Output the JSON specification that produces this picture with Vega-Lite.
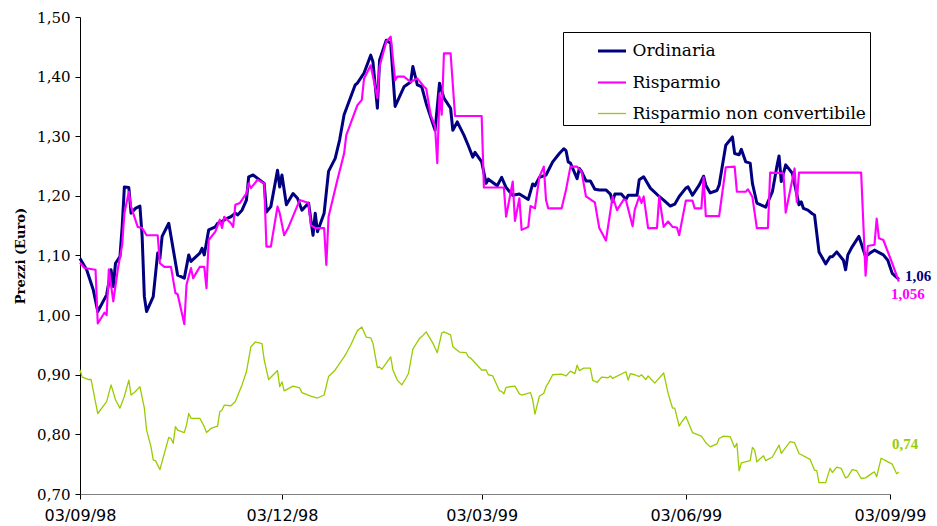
{
"$schema":"https://vega.github.io/schema/vega-lite/v6.json",
"width":810,"height":477,
"autosize":{"type":"none"},
"padding":{"left":80,"top":17,"right":47,"bottom":32},
"background":"white",
"config":{"view":{"stroke":null},"axis":{"grid":false},
 "legend":{"title":null,"strokeColor":"#000000","fillColor":"#ffffff","padding":3.5,"symbolOffset":30,"symbolType":"stroke","symbolSize":784,"labelFont":"DejaVu Serif","labelFontSize":17,"labelColor":"#000000","labelOffset":5,"labelLimit":400,"rowPadding":7.5}},
"datasets":{
"ordinaria":[
{"date":"1998-09-03","prezzo":1.095},{"date":"1998-09-06","prezzo":1.076},{"date":"1998-09-09","prezzo":1.042},{"date":"1998-09-11","prezzo":1.006},{"date":"1998-09-15","prezzo":1.034},{"date":"1998-09-17","prezzo":1.076},{"date":"1998-09-18","prezzo":1.048},{"date":"1998-09-19","prezzo":1.087},{"date":"1998-09-21","prezzo":1.098},{"date":"1998-09-22","prezzo":1.148},{"date":"1998-09-23","prezzo":1.215},{"date":"1998-09-25","prezzo":1.214},{"date":"1998-09-26","prezzo":1.171},{"date":"1998-09-28","prezzo":1.179},{"date":"1998-09-30","prezzo":1.183},{"date":"1998-10-01","prezzo":1.132},{"date":"1998-10-02","prezzo":1.031},{"date":"1998-10-03","prezzo":1.006},{"date":"1998-10-06","prezzo":1.031},{"date":"1998-10-08","prezzo":1.104},{"date":"1998-10-09","prezzo":1.095},{"date":"1998-10-10","prezzo":1.132},{"date":"1998-10-13","prezzo":1.154},{"date":"1998-10-17","prezzo":1.067},{"date":"1998-10-20","prezzo":1.062},{"date":"1998-10-22","prezzo":1.101},{"date":"1998-10-23","prezzo":1.090},{"date":"1998-10-27","prezzo":1.104},{"date":"1998-10-28","prezzo":1.112},{"date":"1998-10-29","prezzo":1.101},{"date":"1998-10-31","prezzo":1.143},{"date":"1998-11-03","prezzo":1.148},{"date":"1998-11-04","prezzo":1.154},{"date":"1998-11-06","prezzo":1.157},{"date":"1998-11-08","prezzo":1.162},{"date":"1998-11-10","prezzo":1.165},{"date":"1998-11-12","prezzo":1.171},{"date":"1998-11-13","prezzo":1.168},{"date":"1998-11-15","prezzo":1.176},{"date":"1998-11-17","prezzo":1.193},{"date":"1998-11-18","prezzo":1.232},{"date":"1998-11-20","prezzo":1.235},{"date":"1998-11-25","prezzo":1.221},{"date":"1998-11-26","prezzo":1.173},{"date":"1998-11-28","prezzo":1.182},{"date":"1998-12-01","prezzo":1.243},{"date":"1998-12-02","prezzo":1.215},{"date":"1998-12-03","prezzo":1.235},{"date":"1998-12-05","prezzo":1.185},{"date":"1998-12-08","prezzo":1.204},{"date":"1998-12-10","prezzo":1.196},{"date":"1998-12-12","prezzo":1.176},{"date":"1998-12-15","prezzo":1.188},{"date":"1998-12-17","prezzo":1.134},{"date":"1998-12-18","prezzo":1.171},{"date":"1998-12-19","prezzo":1.140},{"date":"1998-12-22","prezzo":1.171},{"date":"1998-12-24","prezzo":1.241},{"date":"1998-12-27","prezzo":1.263},{"date":"1998-12-29","prezzo":1.294},{"date":"1998-12-31","prezzo":1.336},{"date":"1999-01-05","prezzo":1.386},{"date":"1999-01-06","prezzo":1.389},{"date":"1999-01-09","prezzo":1.406},{"date":"1999-01-12","prezzo":1.436},{"date":"1999-01-13","prezzo":1.425},{"date":"1999-01-15","prezzo":1.347},{"date":"1999-01-16","prezzo":1.428},{"date":"1999-01-19","prezzo":1.461},{"date":"1999-01-21","prezzo":1.456},{"date":"1999-01-23","prezzo":1.350},{"date":"1999-01-27","prezzo":1.383},{"date":"1999-01-30","prezzo":1.391},{"date":"1999-01-31","prezzo":1.417},{"date":"1999-02-02","prezzo":1.386},{"date":"1999-02-04","prezzo":1.383},{"date":"1999-02-06","prezzo":1.355},{"date":"1999-02-10","prezzo":1.310},{"date":"1999-02-12","prezzo":1.389},{"date":"1999-02-14","prezzo":1.364},{"date":"1999-02-17","prezzo":1.347},{"date":"1999-02-18","prezzo":1.310},{"date":"1999-02-20","prezzo":1.324},{"date":"1999-02-23","prezzo":1.302},{"date":"1999-02-25","prezzo":1.284},{"date":"1999-02-27","prezzo":1.265},{"date":"1999-02-28","prezzo":1.273},{"date":"1999-03-03","prezzo":1.257},{"date":"1999-03-05","prezzo":1.221},{"date":"1999-03-06","prezzo":1.228},{"date":"1999-03-10","prezzo":1.217},{"date":"1999-03-12","prezzo":1.231},{"date":"1999-03-14","prezzo":1.214},{"date":"1999-03-17","prezzo":1.201},{"date":"1999-03-20","prezzo":1.203},{"date":"1999-03-24","prezzo":1.194},{"date":"1999-03-26","prezzo":1.220},{"date":"1999-03-27","prezzo":1.217},{"date":"1999-03-29","prezzo":1.231},{"date":"1999-04-01","prezzo":1.235},{"date":"1999-04-04","prezzo":1.257},{"date":"1999-04-07","prezzo":1.271},{"date":"1999-04-09","prezzo":1.279},{"date":"1999-04-10","prezzo":1.276},{"date":"1999-04-11","prezzo":1.257},{"date":"1999-04-12","prezzo":1.255},{"date":"1999-04-15","prezzo":1.229},{"date":"1999-04-16","prezzo":1.246},{"date":"1999-04-17","prezzo":1.241},{"date":"1999-04-19","prezzo":1.225},{"date":"1999-04-21","prezzo":1.225},{"date":"1999-04-23","prezzo":1.211},{"date":"1999-04-25","prezzo":1.210},{"date":"1999-04-28","prezzo":1.210},{"date":"1999-04-30","prezzo":1.203},{"date":"1999-05-01","prezzo":1.190},{"date":"1999-05-02","prezzo":1.203},{"date":"1999-05-05","prezzo":1.203},{"date":"1999-05-07","prezzo":1.194},{"date":"1999-05-08","prezzo":1.201},{"date":"1999-05-12","prezzo":1.201},{"date":"1999-05-13","prezzo":1.227},{"date":"1999-05-15","prezzo":1.232},{"date":"1999-05-18","prezzo":1.213},{"date":"1999-05-22","prezzo":1.199},{"date":"1999-05-24","prezzo":1.193},{"date":"1999-05-27","prezzo":1.183},{"date":"1999-05-29","prezzo":1.186},{"date":"1999-05-31","prezzo":1.199},{"date":"1999-06-03","prezzo":1.213},{"date":"1999-06-04","prezzo":1.215},{"date":"1999-06-06","prezzo":1.201},{"date":"1999-06-09","prezzo":1.218},{"date":"1999-06-11","prezzo":1.233},{"date":"1999-06-12","prezzo":1.218},{"date":"1999-06-14","prezzo":1.205},{"date":"1999-06-17","prezzo":1.209},{"date":"1999-06-18","prezzo":1.218},{"date":"1999-06-21","prezzo":1.285},{"date":"1999-06-23","prezzo":1.294},{"date":"1999-06-24","prezzo":1.299},{"date":"1999-06-25","prezzo":1.271},{"date":"1999-06-27","prezzo":1.269},{"date":"1999-06-28","prezzo":1.278},{"date":"1999-06-30","prezzo":1.257},{"date":"1999-07-02","prezzo":1.255},{"date":"1999-07-03","prezzo":1.221},{"date":"1999-07-05","prezzo":1.188},{"date":"1999-07-09","prezzo":1.181},{"date":"1999-07-12","prezzo":1.207},{"date":"1999-07-14","prezzo":1.249},{"date":"1999-07-15","prezzo":1.267},{"date":"1999-07-16","prezzo":1.224},{"date":"1999-07-18","prezzo":1.252},{"date":"1999-07-21","prezzo":1.238},{"date":"1999-07-24","prezzo":1.185},{"date":"1999-07-25","prezzo":1.190},{"date":"1999-07-26","prezzo":1.179},{"date":"1999-07-28","prezzo":1.176},{"date":"1999-07-30","prezzo":1.170},{"date":"1999-07-31","prezzo":1.168},{"date":"1999-08-02","prezzo":1.106},{"date":"1999-08-05","prezzo":1.086},{"date":"1999-08-07","prezzo":1.098},{"date":"1999-08-08","prezzo":1.098},{"date":"1999-08-10","prezzo":1.106},{"date":"1999-08-13","prezzo":1.092},{"date":"1999-08-14","prezzo":1.076},{"date":"1999-08-15","prezzo":1.101},{"date":"1999-08-17","prezzo":1.115},{"date":"1999-08-20","prezzo":1.132},{"date":"1999-08-23","prezzo":1.098},{"date":"1999-08-25","prezzo":1.104},{"date":"1999-08-27","prezzo":1.109},{"date":"1999-08-31","prezzo":1.101},{"date":"1999-09-02","prezzo":1.092},{"date":"1999-09-04","prezzo":1.070},{"date":"1999-09-07","prezzo":1.060}
],
"risparmio":[
{"date":"1998-09-03","prezzo":1.088},{"date":"1998-09-05","prezzo":1.079},{"date":"1998-09-10","prezzo":1.076},{"date":"1998-09-11","prezzo":0.986},{"date":"1998-09-14","prezzo":1.004},{"date":"1998-09-15","prezzo":1.000},{"date":"1998-09-16","prezzo":1.077},{"date":"1998-09-18","prezzo":1.023},{"date":"1998-09-20","prezzo":1.076},{"date":"1998-09-22","prezzo":1.118},{"date":"1998-09-23","prezzo":1.171},{"date":"1998-09-25","prezzo":1.207},{"date":"1998-09-26","prezzo":1.182},{"date":"1998-09-29","prezzo":1.148},{"date":"1998-10-01","prezzo":1.146},{"date":"1998-10-03","prezzo":1.134},{"date":"1998-10-08","prezzo":1.134},{"date":"1998-10-09","prezzo":1.087},{"date":"1998-10-11","prezzo":1.081},{"date":"1998-10-14","prezzo":1.081},{"date":"1998-10-16","prezzo":1.037},{"date":"1998-10-17","prezzo":1.035},{"date":"1998-10-20","prezzo":0.985},{"date":"1998-10-21","prezzo":1.051},{"date":"1998-10-23","prezzo":1.079},{"date":"1998-10-24","prezzo":1.062},{"date":"1998-10-27","prezzo":1.081},{"date":"1998-10-29","prezzo":1.081},{"date":"1998-10-30","prezzo":1.045},{"date":"1998-10-31","prezzo":1.126},{"date":"1998-11-03","prezzo":1.140},{"date":"1998-11-05","prezzo":1.160},{"date":"1998-11-06","prezzo":1.146},{"date":"1998-11-07","prezzo":1.165},{"date":"1998-11-10","prezzo":1.154},{"date":"1998-11-11","prezzo":1.148},{"date":"1998-11-12","prezzo":1.185},{"date":"1998-11-14","prezzo":1.188},{"date":"1998-11-17","prezzo":1.204},{"date":"1998-11-18","prezzo":1.221},{"date":"1998-11-19","prezzo":1.213},{"date":"1998-11-22","prezzo":1.227},{"date":"1998-11-25","prezzo":1.221},{"date":"1998-11-26","prezzo":1.115},{"date":"1998-11-28","prezzo":1.115},{"date":"1998-12-01","prezzo":1.182},{"date":"1998-12-02","prezzo":1.171},{"date":"1998-12-04","prezzo":1.134},{"date":"1998-12-06","prezzo":1.148},{"date":"1998-12-11","prezzo":1.193},{"date":"1998-12-15","prezzo":1.188},{"date":"1998-12-16","prezzo":1.151},{"date":"1998-12-18","prezzo":1.146},{"date":"1998-12-22","prezzo":1.146},{"date":"1998-12-23","prezzo":1.084},{"date":"1998-12-24","prezzo":1.165},{"date":"1998-12-28","prezzo":1.227},{"date":"1998-12-31","prezzo":1.271},{"date":"1999-01-01","prezzo":1.302},{"date":"1999-01-06","prezzo":1.352},{"date":"1999-01-08","prezzo":1.361},{"date":"1999-01-09","prezzo":1.397},{"date":"1999-01-12","prezzo":1.419},{"date":"1999-01-15","prezzo":1.364},{"date":"1999-01-16","prezzo":1.417},{"date":"1999-01-19","prezzo":1.459},{"date":"1999-01-21","prezzo":1.467},{"date":"1999-01-23","prezzo":1.394},{"date":"1999-01-24","prezzo":1.400},{"date":"1999-01-27","prezzo":1.400},{"date":"1999-01-30","prezzo":1.391},{"date":"1999-02-02","prezzo":1.397},{"date":"1999-02-05","prezzo":1.383},{"date":"1999-02-06","prezzo":1.380},{"date":"1999-02-08","prezzo":1.336},{"date":"1999-02-10","prezzo":1.316},{"date":"1999-02-11","prezzo":1.255},{"date":"1999-02-12","prezzo":1.372},{"date":"1999-02-13","prezzo":1.336},{"date":"1999-02-14","prezzo":1.439},{"date":"1999-02-17","prezzo":1.439},{"date":"1999-02-19","prezzo":1.334},{"date":"1999-03-03","prezzo":1.334},{"date":"1999-03-04","prezzo":1.214},{"date":"1999-03-13","prezzo":1.214},{"date":"1999-03-14","prezzo":1.165},{"date":"1999-03-17","prezzo":1.224},{"date":"1999-03-18","prezzo":1.158},{"date":"1999-03-20","prezzo":1.196},{"date":"1999-03-21","prezzo":1.143},{"date":"1999-03-24","prezzo":1.148},{"date":"1999-03-25","prezzo":1.183},{"date":"1999-03-27","prezzo":1.179},{"date":"1999-03-29","prezzo":1.232},{"date":"1999-03-31","prezzo":1.249},{"date":"1999-04-01","prezzo":1.193},{"date":"1999-04-02","prezzo":1.179},{"date":"1999-04-08","prezzo":1.179},{"date":"1999-04-10","prezzo":1.210},{"date":"1999-04-12","prezzo":1.249},{"date":"1999-04-15","prezzo":1.249},{"date":"1999-04-17","prezzo":1.241},{"date":"1999-04-19","prezzo":1.199},{"date":"1999-04-21","prezzo":1.194},{"date":"1999-04-23","prezzo":1.189},{"date":"1999-04-25","prezzo":1.146},{"date":"1999-04-28","prezzo":1.125},{"date":"1999-05-01","prezzo":1.199},{"date":"1999-05-03","prezzo":1.176},{"date":"1999-05-06","prezzo":1.194},{"date":"1999-05-07","prezzo":1.193},{"date":"1999-05-10","prezzo":1.149},{"date":"1999-05-11","prezzo":1.177},{"date":"1999-05-13","prezzo":1.199},{"date":"1999-05-14","prezzo":1.188},{"date":"1999-05-15","prezzo":1.199},{"date":"1999-05-17","prezzo":1.146},{"date":"1999-05-21","prezzo":1.146},{"date":"1999-05-22","prezzo":1.199},{"date":"1999-05-24","prezzo":1.148},{"date":"1999-05-26","prezzo":1.157},{"date":"1999-05-28","prezzo":1.148},{"date":"1999-05-30","prezzo":1.147},{"date":"1999-05-31","prezzo":1.134},{"date":"1999-06-03","prezzo":1.192},{"date":"1999-06-06","prezzo":1.192},{"date":"1999-06-07","prezzo":1.179},{"date":"1999-06-10","prezzo":1.179},{"date":"1999-06-11","prezzo":1.231},{"date":"1999-06-12","prezzo":1.166},{"date":"1999-06-18","prezzo":1.166},{"date":"1999-06-21","prezzo":1.248},{"date":"1999-06-25","prezzo":1.249},{"date":"1999-06-26","prezzo":1.207},{"date":"1999-06-30","prezzo":1.207},{"date":"1999-07-01","prezzo":1.211},{"date":"1999-07-03","prezzo":1.198},{"date":"1999-07-05","prezzo":1.146},{"date":"1999-07-10","prezzo":1.146},{"date":"1999-07-11","prezzo":1.239},{"date":"1999-07-17","prezzo":1.238},{"date":"1999-07-18","prezzo":1.172},{"date":"1999-07-22","prezzo":1.246},{"date":"1999-07-23","prezzo":1.190},{"date":"1999-07-24","prezzo":1.239},{"date":"1999-08-21","prezzo":1.239},{"date":"1999-08-23","prezzo":1.066},{"date":"1999-08-24","prezzo":1.116},{"date":"1999-08-27","prezzo":1.118},{"date":"1999-08-28","prezzo":1.162},{"date":"1999-08-29","prezzo":1.129},{"date":"1999-08-31","prezzo":1.126},{"date":"1999-09-04","prezzo":1.087},{"date":"1999-09-07","prezzo":1.056}
],
"nonconv":[
{"date":"1998-09-03","prezzo":0.908},{"date":"1998-09-04","prezzo":0.896},{"date":"1998-09-07","prezzo":0.892},{"date":"1998-09-08","prezzo":0.892},{"date":"1998-09-11","prezzo":0.835},{"date":"1998-09-15","prezzo":0.855},{"date":"1998-09-17","prezzo":0.883},{"date":"1998-09-19","prezzo":0.858},{"date":"1998-09-21","prezzo":0.844},{"date":"1998-09-23","prezzo":0.864},{"date":"1998-09-25","prezzo":0.891},{"date":"1998-09-26","prezzo":0.866},{"date":"1998-09-28","prezzo":0.872},{"date":"1998-09-30","prezzo":0.880},{"date":"1998-10-02","prezzo":0.844},{"date":"1998-10-03","prezzo":0.807},{"date":"1998-10-05","prezzo":0.779},{"date":"1998-10-06","prezzo":0.757},{"date":"1998-10-07","prezzo":0.756},{"date":"1998-10-09","prezzo":0.741},{"date":"1998-10-11","prezzo":0.768},{"date":"1998-10-13","prezzo":0.795},{"date":"1998-10-14","prezzo":0.793},{"date":"1998-10-15","prezzo":0.785},{"date":"1998-10-16","prezzo":0.813},{"date":"1998-10-17","prezzo":0.807},{"date":"1998-10-20","prezzo":0.803},{"date":"1998-10-21","prezzo":0.816},{"date":"1998-10-22","prezzo":0.835},{"date":"1998-10-23","prezzo":0.827},{"date":"1998-10-27","prezzo":0.827},{"date":"1998-10-29","prezzo":0.813},{"date":"1998-10-30","prezzo":0.803},{"date":"1998-11-01","prezzo":0.810},{"date":"1998-11-04","prezzo":0.814},{"date":"1998-11-05","prezzo":0.838},{"date":"1998-11-06","prezzo":0.841},{"date":"1998-11-07","prezzo":0.849},{"date":"1998-11-10","prezzo":0.848},{"date":"1998-11-12","prezzo":0.855},{"date":"1998-11-15","prezzo":0.883},{"date":"1998-11-17","prezzo":0.905},{"date":"1998-11-19","prezzo":0.947},{"date":"1998-11-21","prezzo":0.955},{"date":"1998-11-24","prezzo":0.952},{"date":"1998-11-25","prezzo":0.925},{"date":"1998-11-27","prezzo":0.892},{"date":"1998-12-01","prezzo":0.907},{"date":"1998-12-02","prezzo":0.880},{"date":"1998-12-03","prezzo":0.888},{"date":"1998-12-04","prezzo":0.873},{"date":"1998-12-08","prezzo":0.881},{"date":"1998-12-11","prezzo":0.878},{"date":"1998-12-12","prezzo":0.870},{"date":"1998-12-16","prezzo":0.864},{"date":"1998-12-19","prezzo":0.861},{"date":"1998-12-22","prezzo":0.866},{"date":"1998-12-24","prezzo":0.897},{"date":"1998-12-27","prezzo":0.908},{"date":"1998-12-29","prezzo":0.919},{"date":"1998-12-31","prezzo":0.930},{"date":"1999-01-01","prezzo":0.936},{"date":"1999-01-03","prezzo":0.950},{"date":"1999-01-06","prezzo":0.974},{"date":"1999-01-08","prezzo":0.980},{"date":"1999-01-10","prezzo":0.963},{"date":"1999-01-12","prezzo":0.962},{"date":"1999-01-13","prezzo":0.953},{"date":"1999-01-15","prezzo":0.912},{"date":"1999-01-16","prezzo":0.913},{"date":"1999-01-17","prezzo":0.909},{"date":"1999-01-21","prezzo":0.930},{"date":"1999-01-22","prezzo":0.908},{"date":"1999-01-24","prezzo":0.891},{"date":"1999-01-26","prezzo":0.883},{"date":"1999-01-28","prezzo":0.895},{"date":"1999-01-29","prezzo":0.902},{"date":"1999-01-31","prezzo":0.943},{"date":"1999-02-03","prezzo":0.961},{"date":"1999-02-04","prezzo":0.964},{"date":"1999-02-06","prezzo":0.972},{"date":"1999-02-09","prezzo":0.953},{"date":"1999-02-11","prezzo":0.937},{"date":"1999-02-13","prezzo":0.970},{"date":"1999-02-14","prezzo":0.972},{"date":"1999-02-17","prezzo":0.967},{"date":"1999-02-18","prezzo":0.947},{"date":"1999-02-21","prezzo":0.938},{"date":"1999-02-24","prezzo":0.937},{"date":"1999-02-25","prezzo":0.930},{"date":"1999-02-26","prezzo":0.928},{"date":"1999-03-03","prezzo":0.908},{"date":"1999-03-05","prezzo":0.908},{"date":"1999-03-06","prezzo":0.900},{"date":"1999-03-08","prezzo":0.898},{"date":"1999-03-11","prezzo":0.873},{"date":"1999-03-12","prezzo":0.872},{"date":"1999-03-13","prezzo":0.868},{"date":"1999-03-14","prezzo":0.879},{"date":"1999-03-18","prezzo":0.881},{"date":"1999-03-20","prezzo":0.868},{"date":"1999-03-21","prezzo":0.866},{"date":"1999-03-25","prezzo":0.870},{"date":"1999-03-26","prezzo":0.858},{"date":"1999-03-27","prezzo":0.834},{"date":"1999-03-29","prezzo":0.864},{"date":"1999-03-31","prezzo":0.869},{"date":"1999-04-01","prezzo":0.880},{"date":"1999-04-02","prezzo":0.886},{"date":"1999-04-04","prezzo":0.900},{"date":"1999-04-08","prezzo":0.901},{"date":"1999-04-10","prezzo":0.898},{"date":"1999-04-12","prezzo":0.906},{"date":"1999-04-14","prezzo":0.902},{"date":"1999-04-15","prezzo":0.916},{"date":"1999-04-16","prezzo":0.907},{"date":"1999-04-18","prezzo":0.911},{"date":"1999-04-21","prezzo":0.911},{"date":"1999-04-22","prezzo":0.891},{"date":"1999-04-24","prezzo":0.887},{"date":"1999-04-26","prezzo":0.896},{"date":"1999-04-29","prezzo":0.895},{"date":"1999-04-30","prezzo":0.898},{"date":"1999-05-01","prezzo":0.894},{"date":"1999-05-07","prezzo":0.905},{"date":"1999-05-08","prezzo":0.891},{"date":"1999-05-09","prezzo":0.902},{"date":"1999-05-11","prezzo":0.900},{"date":"1999-05-13","prezzo":0.897},{"date":"1999-05-14","prezzo":0.900},{"date":"1999-05-16","prezzo":0.892},{"date":"1999-05-17","prezzo":0.898},{"date":"1999-05-20","prezzo":0.886},{"date":"1999-05-24","prezzo":0.903},{"date":"1999-05-26","prezzo":0.869},{"date":"1999-05-28","prezzo":0.844},{"date":"1999-05-29","prezzo":0.844},{"date":"1999-05-31","prezzo":0.814},{"date":"1999-06-01","prezzo":0.820},{"date":"1999-06-03","prezzo":0.830},{"date":"1999-06-04","prezzo":0.821},{"date":"1999-06-06","prezzo":0.803},{"date":"1999-06-10","prezzo":0.797},{"date":"1999-06-12","prezzo":0.786},{"date":"1999-06-14","prezzo":0.779},{"date":"1999-06-17","prezzo":0.784},{"date":"1999-06-18","prezzo":0.793},{"date":"1999-06-20","prezzo":0.797},{"date":"1999-06-23","prezzo":0.796},{"date":"1999-06-25","prezzo":0.778},{"date":"1999-06-26","prezzo":0.785},{"date":"1999-06-27","prezzo":0.739},{"date":"1999-06-28","prezzo":0.752},{"date":"1999-07-02","prezzo":0.756},{"date":"1999-07-03","prezzo":0.778},{"date":"1999-07-04","prezzo":0.774},{"date":"1999-07-05","prezzo":0.754},{"date":"1999-07-08","prezzo":0.764},{"date":"1999-07-09","prezzo":0.756},{"date":"1999-07-12","prezzo":0.762},{"date":"1999-07-15","prezzo":0.782},{"date":"1999-07-16","prezzo":0.768},{"date":"1999-07-20","prezzo":0.788},{"date":"1999-07-22","prezzo":0.786},{"date":"1999-07-24","prezzo":0.768},{"date":"1999-07-29","prezzo":0.758},{"date":"1999-07-31","prezzo":0.740},{"date":"1999-08-01","prezzo":0.739},{"date":"1999-08-02","prezzo":0.719},{"date":"1999-08-05","prezzo":0.719},{"date":"1999-08-07","prezzo":0.743},{"date":"1999-08-08","prezzo":0.736},{"date":"1999-08-10","prezzo":0.745},{"date":"1999-08-12","prezzo":0.743},{"date":"1999-08-14","prezzo":0.727},{"date":"1999-08-15","prezzo":0.729},{"date":"1999-08-17","prezzo":0.741},{"date":"1999-08-19","prezzo":0.739},{"date":"1999-08-21","prezzo":0.726},{"date":"1999-08-23","prezzo":0.727},{"date":"1999-08-26","prezzo":0.735},{"date":"1999-08-27","prezzo":0.737},{"date":"1999-08-28","prezzo":0.729},{"date":"1999-08-30","prezzo":0.760},{"date":"1999-09-01","prezzo":0.756},{"date":"1999-09-04","prezzo":0.750},{"date":"1999-09-06","prezzo":0.734},{"date":"1999-09-07","prezzo":0.737}
],
"etichette":[
{"date":"1999-09-07","prezzo":1.06,"testo":"1,06","serie":"Ordinaria"},
{"date":"1999-09-07","prezzo":1.056,"testo":"1,056","serie":"Risparmio"},
{"date":"1999-09-07","prezzo":0.74,"testo":"0,74","serie":"Risparmio non convertibile"}
]
},
"encoding":{
"x":{"field":"date","type":"temporal",
 "scale":{"type":"utc","domain":[{"year":1998,"month":9,"date":3,"utc":true},{"year":1999,"month":9,"date":3,"utc":true}]},
 "axis":{"values":[{"year":1998,"month":9,"date":3,"utc":true},{"year":1998,"month":12,"date":3,"utc":true},{"year":1999,"month":3,"date":3,"utc":true},{"year":1999,"month":6,"date":3,"utc":true},{"year":1999,"month":9,"date":3,"utc":true}],
  "labelExpr":"utcFormat(datum.value, '%d/%m/%y')","title":null,"labelFont":"DejaVu Sans","labelFontSize":16,"labelColor":"#000000",
  "domainColor":"#808080","domainWidth":1,"tickColor":"#000000","tickSize":5,"labelPadding":8,"labelFlush":false,"labelOverlap":false,"grid":false}},
"y":{"field":"prezzo","type":"quantitative",
 "scale":{"domain":[0.7,1.5],"zero":false,"nice":false},
 "axis":{"values":[0.7,0.8,0.9,1.0,1.1,1.2,1.3,1.4,1.5],"labelExpr":"replace(format(datum.value, '.2f'), '.', ',')",
  "labelFont":"DejaVu Serif","labelFontSize":15,"labelColor":"#000000","domainColor":"#000000","tickColor":"#000000","tickSize":5,"labelPadding":5,
  "title":"Prezzi (Euro)","titleFont":"DejaVu Serif","titleFontSize":13,"titleFontWeight":"bold","titleColor":"#000000","titlePadding":9,"grid":false}}
},
"layer":[
{"data":{"name":"ordinaria"},"mark":{"type":"line","strokeJoin":"round"},
 "encoding":{"color":{"datum":"Ordinaria","type":"nominal","scale":{"domain":["Ordinaria","Risparmio","Risparmio non convertibile"],"range":["#000080","#FF00FF","#99CC00"]},
   "legend":{"orient":"none","legendX":483,"legendY":15,"encode":{"labels":{"update":{"font":{"value":"DejaVu Serif"},"fontSize":{"value":17}}}}}},
  "strokeWidth":{"datum":"Ordinaria","type":"nominal","scale":{"domain":["Ordinaria","Risparmio","Risparmio non convertibile"],"range":[3,1.3,1.3]},
   "legend":{"orient":"none","legendX":483,"legendY":15,"encode":{"labels":{"update":{"font":{"value":"DejaVu Serif"},"fontSize":{"value":17}}}}}}}},
{"data":{"name":"risparmio"},"mark":{"type":"line","strokeJoin":"round"},
 "encoding":{"color":{"datum":"Risparmio","type":"nominal"},"strokeWidth":{"datum":"Risparmio","type":"nominal"}}},
{"data":{"name":"nonconv"},"mark":{"type":"line","strokeJoin":"round"},
 "encoding":{"color":{"datum":"Risparmio non convertibile","type":"nominal"},"strokeWidth":{"datum":"Risparmio non convertibile","type":"nominal"}}},
{"data":{"name":"etichette"},"transform":[{"filter":"datum.serie == 'Ordinaria'"}],
 "mark":{"type":"text","align":"left","baseline":"middle","dx":6,"dy":-3,"font":"Liberation Serif","fontWeight":"bold","fontSize":15,"color":"#000080"},
 "encoding":{"text":{"field":"testo"}}},
{"data":{"name":"etichette"},"transform":[{"filter":"datum.serie == 'Risparmio'"}],
 "mark":{"type":"text","align":"left","baseline":"middle","dx":-8,"dy":12.5,"font":"Liberation Serif","fontWeight":"bold","fontSize":15,"color":"#FF00FF"},
 "encoding":{"text":{"field":"testo"}}},
{"data":{"name":"etichette"},"transform":[{"filter":"datum.serie == 'Risparmio non convertibile'"}],
 "mark":{"type":"text","align":"left","baseline":"middle","dx":-7,"dy":-26,"font":"Liberation Serif","fontWeight":"bold","fontSize":15,"color":"#99CC00"},
 "encoding":{"text":{"field":"testo"}}}
]
}
